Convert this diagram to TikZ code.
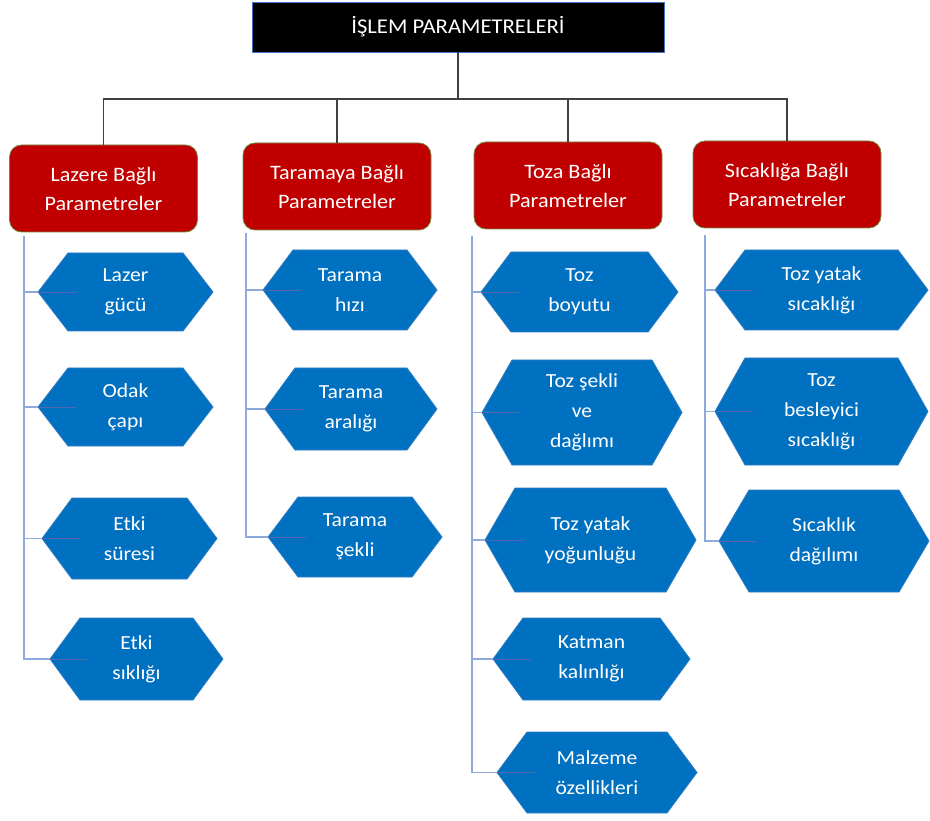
\documentclass[tikz,border=0pt]{standalone}
\usepackage{fontspec}
\setmainfont{Carlito}[FakeStretch=1.08]
\definecolor{topblue}{HTML}{4472C4}
\definecolor{catred}{HTML}{C00000}
\definecolor{catgreen}{HTML}{71893F}
\definecolor{hexblue}{HTML}{0070C0}
\definecolor{hexedge}{HTML}{2F7CC4}
\definecolor{trunkgray}{HTML}{404040}
\definecolor{branchblue}{HTML}{8EA9DB}
\definecolor{innerblue}{HTML}{5566B0}
\newcommand{\hexnode}[6]{%
  \path[hexfill] ({#2-#4/2},#3) -- ({#2-#4/2+30},{#3-#5/2}) -- ({#2+#4/2-30},{#3-#5/2}) -- ({#2+#4/2},#3) -- ({#2+#4/2-30},{#3+#5/2}) -- ({#2-#4/2+30},{#3+#5/2}) -- cycle;
  \node[hexlabel, minimum width=#4pt, minimum height=#5pt] (#1) at (#2,#3) {#6};
}
\begin{document}
\begin{tikzpicture}[x=1pt,y=-1pt,
  topbox/.style={fill=black, draw=topblue, line width=0.8pt, minimum width=412pt, minimum height=50pt, inner sep=0pt, text=white, font=\fontsize{21}{25}\selectfont},
  catbox/.style={fill=catred, draw=catgreen, line width=0.8pt, rounded corners=12pt, minimum width=188pt, minimum height=87pt, inner sep=0pt, text=white, align=center, font=\fontsize{20.5}{29}\selectfont},
  hexfill/.style={fill=hexblue, draw=hexedge, line width=0.8pt},
  hexlabel/.style={inner sep=0pt, text=white, align=center, font=\fontsize{20}{30}\selectfont},
  trunk/.style={draw=trunkgray, line width=1.4pt},
  branch/.style={draw=branchblue, line width=1.1pt},
  innerline/.style={draw=innerblue, line width=0.8pt}]
\useasboundingbox (0,0) rectangle (930,821);

% title and categories
\node[topbox] (top) at (458,27) {İŞLEM PARAMETRELERİ};
\node[catbox] (c1) at (103.5,188.5) {Lazere Bağlı\\Parametreler};
\node[catbox] (c2) at (337,186.5) {Taramaya Bağlı\\Parametreler};
\node[catbox] (c3) at (568,185.5) {Toza Bağlı\\Parametreler};
\node[catbox] (c4) at (787,184.5) {Sıcaklığa Bağlı\\Parametreler};

\coordinate (hub) at (458,99);
\draw[trunk] (top.south) -- (hub);
\draw[trunk] (c1.north) |- (hub);
\draw[trunk] (c4.north) |- (hub);
\draw[trunk] (c2.north) -- (c2.north |- hub);
\draw[trunk] (c3.north) -- (c3.north |- hub);

% hexagons
\hexnode{L1}{125.5}{292}{175}{78}{Lazer\\gücü}
\hexnode{L2}{125.5}{407}{175}{78}{Odak\\çapı}
\hexnode{L3}{129.5}{538.5}{175}{81}{Etki\\süresi}
\hexnode{L4}{136.5}{659}{173}{82}{Etki\\sıklığı}

\hexnode{T1}{350}{290}{174}{80}{Tarama\\hızı}
\hexnode{T2}{351}{409}{172}{82}{Tarama\\aralığı}
\hexnode{T3}{355}{537}{174}{80}{Tarama\\şekli}

\hexnode{Z1}{579.5}{292}{197}{80}{Toz\\boyutu}
\hexnode{Z2}{582}{412.5}{200}{105}{Toz şekli\\ve\\dağlımı}
\hexnode{Z3}{590.5}{540}{211}{104}{Toz yatak\\yoğunluğu}
\hexnode{Z4}{591.5}{659}{197}{82}{Katman\\kalınlığı}
\hexnode{Z5}{597}{772.5}{200}{81}{Malzeme\\özellikleri}

\hexnode{S1}{821.5}{290}{213}{80}{Toz yatak\\sıcaklığı}
\hexnode{S2}{821.5}{411.5}{213}{107}{Toz\\besleyici\\sıcaklığı}
\hexnode{S3}{824}{541}{210}{102}{Sıcaklık\\dağılımı}

% branch lines
\coordinate (v1) at (24,236);
\coordinate (v2) at (246,233);
\coordinate (v3) at (472,236);
\coordinate (v4) at (705,235);
\foreach \h in {L1,L2,L3,L4} {\draw[branch] (v1) |- (\h.west); \draw[innerline] (\h.west) -- ++(38,0);}
\foreach \h in {T1,T2,T3} {\draw[branch] (v2) |- (\h.west); \draw[innerline] (\h.west) -- ++(38,0);}
\foreach \h in {Z1,Z2,Z3,Z4,Z5} {\draw[branch] (v3) |- (\h.west); \draw[innerline] (\h.west) -- ++(38,0);}
\foreach \h in {S1,S2,S3} {\draw[branch] (v4) |- (\h.west); \draw[innerline] (\h.west) -- ++(38,0);}
\end{tikzpicture}
\end{document}
